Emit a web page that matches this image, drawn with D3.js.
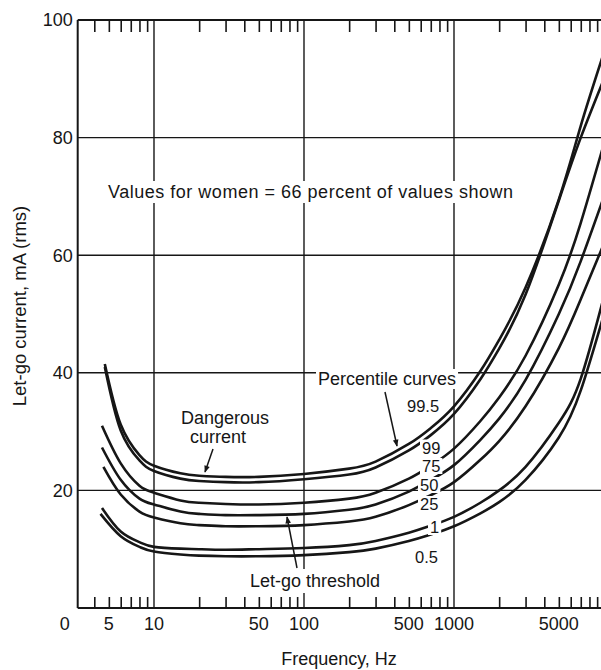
<!DOCTYPE html>
<html>
<head>
<meta charset="utf-8">
<script src="https://cdn.jsdelivr.net/npm/d3@7"></script>
<style>
body{margin:0;background:#fff}
text{font-family:"Liberation Sans",Arial,sans-serif;fill:#161616}
</style>
</head>
<body>
<svg id="chart" width="601" height="670"></svg>
<script>
// percentile curves, let-go current (mA rms)
var percentiles = ["99.5", "99", "75", "50", "25", "1", "0.5"];
var startFreq = [4.7, 4.7, 4.5, 4.5, 4.6, 4.5, 4.4];
var startCurrent = [41.5, 41.0, 31.0, 27.3, 24.0, 17.0, 16.0];
var freqs = [6, 8, 10, 15, 20, 30, 50, 100, 200, 300, 500, 700, 1000, 1500, 2000, 3000, 5000, 7000, 10000];
var p995 = [31.2, 26.0, 24.2, 22.9, 22.5, 22.3, 22.3, 22.8, 23.7, 24.9, 27.9, 30.6, 34.3, 40.3, 45.6, 54.5, 69.5, 82.0, 94.5];
var p99  = [30.2, 25.1, 23.3, 22.0, 21.6, 21.4, 21.4, 21.9, 22.7, 23.9, 26.8, 29.4, 33.0, 38.9, 44.1, 53.3, 69.3, 80.0, 90.0];
var p75  = [24.6, 20.8, 19.6, 18.3, 17.9, 17.7, 17.6, 17.9, 18.6, 19.6, 22.0, 24.2, 27.1, 31.8, 35.8, 42.9, 55.0, 65.5, 79.0];
var p50  = [21.8, 18.6, 17.6, 16.4, 16.0, 15.8, 15.8, 16.0, 16.7, 17.6, 19.8, 21.8, 24.3, 28.6, 32.2, 38.8, 50.0, 59.0, 70.0];
var p25  = [19.3, 16.4, 15.4, 14.4, 14.1, 13.9, 13.9, 14.1, 14.7, 15.5, 17.5, 19.2, 21.4, 25.2, 28.4, 34.3, 44.2, 52.5, 62.0];
var p1   = [13.0, 11.2, 10.4, 10.1, 10.0, 9.9, 10.0, 10.2, 10.7, 11.4, 12.8, 14.0, 15.5, 17.9, 20.0, 24.0, 31.5, 39.0, 53.0];
var p05  = [12.2, 10.4, 9.6, 9.1, 8.9, 8.8, 8.8, 9.0, 9.5, 10.1, 11.4, 12.5, 13.9, 16.1, 18.0, 21.8, 29.0, 37.0, 50.0];
var curveValues = [p995, p99, p75, p50, p25, p1, p05];

var xLabels = [5, 10, 50, 100, 500, 1000, 5000];
var yLabels = [20, 40, 60, 80, 100];
var minorTicks = [4, 5, 6, 7, 8, 9, 20, 30, 40, 50, 60, 70, 80, 90, 200, 300, 400, 500, 600, 700, 800, 900, 2000, 3000, 4000, 5000, 6000, 7000, 8000, 9000];
var gridX = [10, 100, 1000];
var gridY = [20, 40, 60, 80];

var svg = d3.select("#chart");
svg.append("rect").attr("width", 601).attr("height", 670).attr("fill", "#fff");

var x = d3.scaleLog().domain([3.1, 10000]).range([77.7, 604]);
var y = d3.scaleLinear().domain([0, 100]).range([608, 20]);
var left = x(3.1), right = 601;

var ink = "#161616";

// grid
svg.append("g").selectAll("line").data(gridY).enter().append("line")
  .attr("x1", left).attr("x2", right)
  .attr("y1", function(d){ return y(d); }).attr("y2", function(d){ return y(d); })
  .attr("stroke", ink).attr("stroke-width", 1.4);
svg.append("g").selectAll("line").data(gridX).enter().append("line")
  .attr("x1", function(d){ return x(d); }).attr("x2", function(d){ return x(d); })
  .attr("y1", y(100)).attr("y2", y(0))
  .attr("stroke", ink).attr("stroke-width", 1.4);

// frame: left, bottom, top
svg.append("line").attr("x1", left).attr("x2", left).attr("y1", y(100)).attr("y2", y(0)).attr("stroke", ink).attr("stroke-width", 2);
svg.append("line").attr("x1", left).attr("x2", right).attr("y1", y(0)).attr("y2", y(0)).attr("stroke", ink).attr("stroke-width", 2);
svg.append("line").attr("x1", left).attr("x2", right).attr("y1", y(100)).attr("y2", y(100)).attr("stroke", ink).attr("stroke-width", 2);

// inside ticks top and bottom
var bottomAxis = d3.axisBottom(x).tickValues(minorTicks).tickSize(-11).tickFormat("");
var topAxis = d3.axisTop(x).tickValues(minorTicks).tickSize(-12).tickFormat("");
var gb = svg.append("g").attr("transform", "translate(0," + y(0) + ")").call(bottomAxis);
var gt = svg.append("g").attr("transform", "translate(0," + y(100) + ")").call(topAxis);
[gb, gt].forEach(function(g){
  g.select(".domain").remove();
  g.selectAll(".tick line").attr("stroke", ink).attr("stroke-width", 1.6);
});

// curves
var line = d3.line()
  .x(function(d){ return x(d[0]); })
  .y(function(d){ return y(d[1]); })
  .curve(d3.curveNatural);

var series = percentiles.map(function(p, i){
  var pts = [[startFreq[i], startCurrent[i]]];
  freqs.forEach(function(f, j){ pts.push([f, curveValues[i][j]]); });
  return {name: p, pts: pts};
});

svg.append("g").selectAll("path").data(series).enter().append("path")
  .attr("d", function(d){ return line(d.pts); })
  .attr("fill", "none").attr("stroke", ink).attr("stroke-width", 2.6);

// text with white knock-out box
function label(txt, px, py, size, anchor, padX, padY, len) {
  var g = svg.append("g");
  var t = g.append("text").attr("x", px).attr("y", py)
    .attr("font-size", size).attr("text-anchor", anchor || "start").text(txt);
  if (len) t.attr("textLength", len).attr("lengthAdjust", "spacing");
  var b = t.node().getBBox();
  g.insert("rect", "text")
    .attr("x", b.x - padX).attr("y", b.y - padY)
    .attr("width", b.width + 2 * padX).attr("height", b.height + 2 * padY)
    .attr("fill", "#fff");
  return t;
}

// axis labels
svg.append("g").selectAll("text").data(yLabels).enter().append("text")
  .attr("x", left - 5).attr("y", function(d){ return y(d); })
  .attr("dy", "0.35em").attr("text-anchor", "end").attr("font-size", 18)
  .text(function(d){ return d; });
svg.append("g").selectAll("text").data(xLabels).enter().append("text")
  .attr("x", function(d){ return x(d); }).attr("y", 630)
  .attr("text-anchor", "middle").attr("font-size", 18)
  .text(function(d){ return d; });
svg.append("text").attr("x", left - 13).attr("y", 630).attr("text-anchor", "middle").attr("font-size", 18).text("0");

svg.append("text").attr("x", 339).attr("y", 665).attr("text-anchor", "middle").attr("font-size", 18).text("Frequency, Hz");
svg.append("text").attr("transform", "translate(26,306) rotate(-90)").attr("text-anchor", "middle")
  .attr("font-size", 18.5).text("Let-go current, mA (rms)");

// annotations
label("Values for women = 66 percent of values shown", 108, 198, 18, "start", 2, 1, 405);
label("Percentile curves", 318, 385, 18, "start", 2, 0);
svg.append("text").attr("x", 181).attr("y", 424).attr("font-size", 18).text("Dangerous");
svg.append("text").attr("x", 190).attr("y", 443).attr("font-size", 18).text("current");
label("Let-go threshold", 250, 587, 18, "start", 2, 2);

var curveLabelX = [407, 422, 422, 420, 420, 430, 415];
var curveLabelY = [412, 453.5, 472, 491, 510, 533, 563];
percentiles.forEach(function(p, i){
  label(p, curveLabelX[i], curveLabelY[i], 16.5, "start", 2, -1);
});

// arrows
var defs = svg.append("defs");
defs.append("marker").attr("id", "ah").attr("viewBox", "0 0 10 10")
  .attr("refX", 9).attr("refY", 5).attr("markerWidth", 9).attr("markerHeight", 7)
  .attr("markerUnits", "userSpaceOnUse").attr("orient", "auto")
  .append("path").attr("d", "M0,1 L10,5 L0,9 Z").attr("fill", ink);

var arrows = [
  [[385, 392], [397, 446]],
  [[213, 449], [205, 472]],
  [[297, 568], [287, 517]]
];
svg.append("g").selectAll("line").data(arrows).enter().append("line")
  .attr("x1", function(d){ return d[0][0]; }).attr("y1", function(d){ return d[0][1]; })
  .attr("x2", function(d){ return d[1][0]; }).attr("y2", function(d){ return d[1][1]; })
  .attr("stroke", ink).attr("stroke-width", 1.5).attr("marker-end", "url(#ah)");
</script>
</body>
</html>
